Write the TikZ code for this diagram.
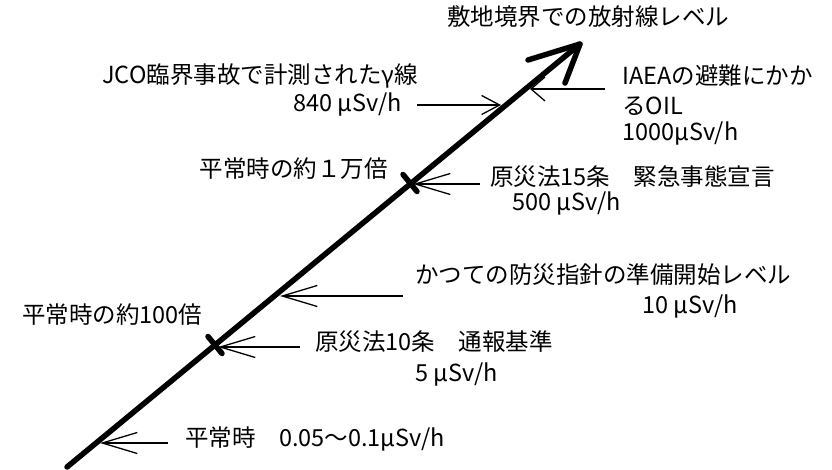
\documentclass[tikz,border=0pt]{standalone}
\usepackage{fontspec}
\setmainfont{Noto Sans CJK JP}
\usetikzlibrary{arrows.meta}
\begin{document}
\begin{tikzpicture}[x=1pt,y=-1pt,
  lbl/.style={inner sep=0pt,font=\fontsize{23.5}{28}\selectfont,text height=0.78em,text depth=0.02em},
  axisline/.style={line width=5.5pt,line cap=round,line join=round},
  pointer/.style={line width=1.3pt,-{Straight Barb[length=35pt,width=21pt]}},
  smallpointer/.style={line width=1.3pt,-{Straight Barb[length=18pt,width=19pt]}},
  tinypointer/.style={line width=1.3pt,-{Straight Barb[length=14pt,width=24pt]}}]
\useasboundingbox (0,0) rectangle (832,470);
% axis
\coordinate (start) at (67,467);
\coordinate (tip) at (580,44);
\coordinate (wingL) at (528,60);
\coordinate (wingR) at (565,83);
\draw[axisline] (start) -- (tip);
\draw[axisline] (wingL) -- (tip) -- (wingR);
% cross marks
\coordinate (m1) at (215,345);
\coordinate (m2) at (410,183);
\draw[axisline] ([shift={(-7,-8.5)}]m1) -- ([shift={(7,8.5)}]m1);
\draw[axisline] ([shift={(-7,-8.5)}]m2) -- ([shift={(7,8.5)}]m2);
% labels
\node[lbl,anchor=west] (title) at (447,22) {敷地境界での放射線レベル};
\node[lbl,anchor=east] (jco) at (418,80) {JCO臨界事故で計測されたγ線};
\node[lbl,anchor=east] (jcov) at (402,108) {840 μSv/h};
\node[lbl,anchor=east] (man) at (388,174) {平常時の約１万倍};
\node[lbl,anchor=west] (iaea1) at (622,81) {IAEAの避難にかか};
\node[lbl,anchor=west] (iaea2) at (622,111) {るOIL};
\node[lbl,anchor=west] (iaea3) at (622,137) {1000μSv/h};
\node[lbl,anchor=west] (g15) at (490,182) {原災法15条　緊急事態宣言};
\node[lbl,anchor=west] (g15v) at (512,207) {500 μSv/h};
\node[lbl,anchor=west] (bosai) at (415,280) {かつての防災指針の準備開始レベル};
\node[lbl,anchor=west] (bosaiv) at (642,310) {10 μSv/h};
\node[lbl,anchor=west] (hyaku) at (22,320) {平常時の約100倍};
\node[lbl,anchor=west] (g10) at (315,347) {原災法10条　通報基準};
\node[lbl,anchor=west] (g10v) at (415,378) {5 μSv/h};
\node[lbl,anchor=west] (heijo) at (185,443) {平常時　0.05～0.1μSv/h};
% pointer ends
\coordinate (a1) at (100,443);  \coordinate (e1) at (168,443);
\coordinate (a2) at (218,347);  \coordinate (e2) at (300,347);
\coordinate (a3) at (280,296);  \coordinate (e3) at (403,296);
\coordinate (a4) at (413,184);  \coordinate (e4) at (480,184);
\coordinate (a5) at (501,105);  \coordinate (e5) at (417,105);
\coordinate (a6) at (530,89);   \coordinate (e6) at (605,89);
\draw[pointer] (e1) -- (a1);
\draw[pointer] (e2) -- (a2);
\draw[pointer] (e3) -- (a3);
\draw[pointer] (e4) -- (a4);
\draw[smallpointer] (e5) -- (a5);
\draw[tinypointer] (e6) -- (a6);
\end{tikzpicture}
\end{document}
